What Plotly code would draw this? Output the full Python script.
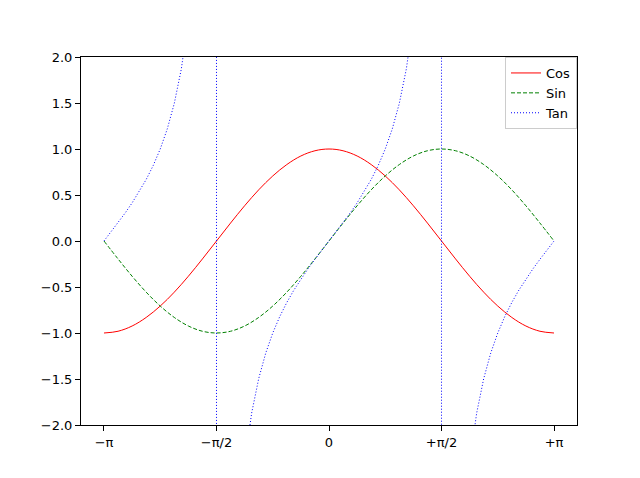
import numpy as np
import plotly.graph_objects as go

# cos / sin sampled at k*pi/16, k=-16..16
cs_x = [k * np.pi / 16 for k in range(-16, 17)]
cos_vals = [-1, -.981, -.924, -.831, -.707, -.556, -.383, -.195, 0, .195, .383, .556, .707, .831, .924, .981,
            1, .981, .924, .831, .707, .556, .383, .195, 0, -.195, -.383, -.556, -.707, -.831, -.924, -.981, -1]
sin_vals = [0, -.195, -.383, -.556, -.707, -.831, -.924, -.981, -1, -.981, -.924, -.831, -.707, -.556, -.383, -.195,
            0, .195, .383, .556, .707, .831, .924, .981, 1, .981, .924, .831, .707, .556, .383, .195, 0]

# tan sampled at k*pi/32 with the jumps at +-pi/2
tan_pos = [0, .0985, .1989, .3033, .4142, .5345, .6682, .8207, 1, 1.2185, 1.4966, 1.8709, 2.4142, 3.2966, 5.0273, 10.153]
tan_neg = [-10.153, -5.0273, -3.2966, -2.4142, -1.8709, -1.4966, -1.2185, -1, -.8207, -.6682, -.5345, -.4142, -.3033, -.1989, -.0985]
tan_x = ([k * np.pi / 32 for k in range(-32, -16)] + [-np.pi / 2 - 1e-3, -np.pi / 2 + 1e-3]
         + [k * np.pi / 32 for k in range(-15, 16)] + [np.pi / 2 - 1e-3, np.pi / 2 + 1e-3]
         + [k * np.pi / 32 for k in range(17, 33)])
tan_vals = tan_pos + [80, -80] + tan_neg + tan_pos + [80, -80] + tan_neg + [0]

x_ticks = [-np.pi, -np.pi / 2, 0, np.pi / 2, np.pi]
x_labels = ["\u2212\u03c0", "\u2212\u03c0/2", "0", "+\u03c0/2", "+\u03c0"]
y_ticks = [-2.0, -1.5, -1.0, -0.5, 0.0, 0.5, 1.0, 1.5, 2.0]

fig = go.Figure()
fig.add_trace(go.Scatter(x=cs_x, y=cos_vals, mode="lines", name="Cos",
                         line=dict(color="red", width=1, shape="spline")))
fig.add_trace(go.Scatter(x=cs_x, y=sin_vals, mode="lines", name="Sin",
                         line=dict(color="green", width=1, dash="4px,2px", shape="spline")))
fig.add_trace(go.Scatter(x=tan_x, y=tan_vals, mode="lines", name="Tan",
                         line=dict(color="blue", width=1, dash="1px,2px")))

axis = dict(showgrid=False, zeroline=False, showline=True, linecolor="black", linewidth=1,
            mirror=True, ticks="outside", ticklen=5, tickcolor="black")
fig.update_layout(
    width=640, height=478, plot_bgcolor="white", paper_bgcolor="white",
    margin=dict(l=73, r=71, t=49, b=61),
    font=dict(family="DejaVu Sans", size=13, color="black"),
    xaxis=dict(range=[-3.4626, 3.4626], tickvals=x_ticks, ticktext=x_labels, **axis),
    yaxis=dict(range=[-2, 2], tickvals=y_ticks, tickformat=".1f", **axis),
    legend=dict(x=1, y=1, xanchor="right", yanchor="top", bgcolor="white",
                bordercolor="#cccccc", borderwidth=1, font=dict(size=13)),
)
fig.write_html("out.html")
